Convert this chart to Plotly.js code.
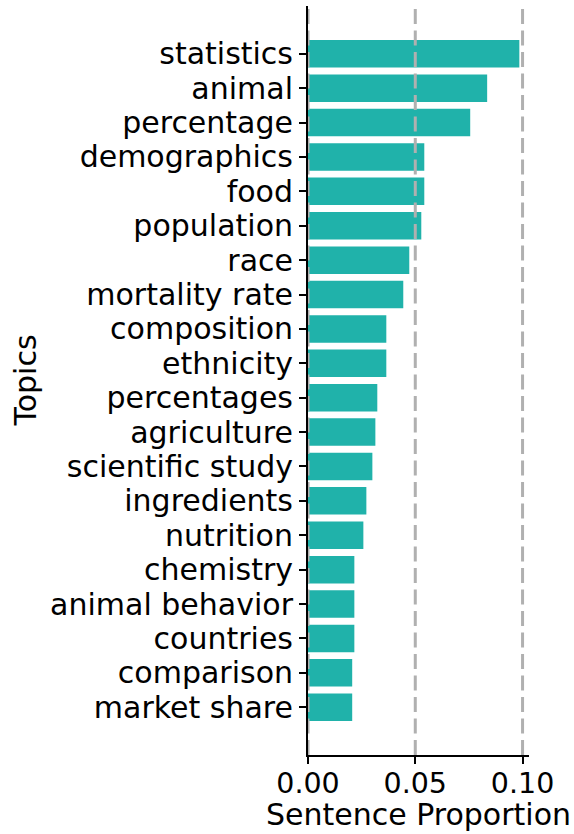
<!DOCTYPE html>
<html>
<head>
<meta charset="utf-8">
<script src="https://cdn.plot.ly/plotly-3.0.1.min.js"></script>
<style>html,body{margin:0;padding:0;background:#fff;}#chart{width:574px;height:834px;}</style>
</head>
<body>
<div id="chart"></div>
<script>
const topics = ["statistics","animal","percentage","demographics","food","population","race","mortality rate","composition","ethnicity","percentages","agriculture","scientific study","ingredients","nutrition","chemistry","animal behavior","countries","comparison","market share"];
const proportions = [0.0985,0.0835,0.0756,0.0542,0.0542,0.0528,0.0472,0.0444,0.0365,0.0365,0.0323,0.0314,0.0300,0.0272,0.0258,0.0216,0.0216,0.0216,0.0206,0.0206];
const xTicks = [0, 0.05, 0.10];
const xTickText = ["0.00","0.05","0.10"];
const xTitle = "Sentence Proportion";
const yTitle = "Topics";

const font = {family: "DejaVu Sans", size: 30, color: "#000"};
const tickFontX = {family: "DejaVu Sans", size: 28.5, color: "#000"};
const n = topics.length;
const pad = 1.39;

const shapes = xTicks.map(v => ({
  type: "line", xref: "x", yref: "paper", x0: v, x1: v, y0: 0, y1: 1,
  line: {color: "#b0b0b0", width: 3, dash: "15px,6.5px"}, layer: "above"
}));

const annotations = [
  {text: xTitle, xref: "paper", yref: "paper", x: 0.5, y: 0, xanchor: "center", yanchor: "middle",
   yshift: -59, showarrow: false, font: font, borderpad: 0},
  {text: yTitle, xref: "paper", yref: "paper", x: 0, y: 0.5, xanchor: "center", yanchor: "middle",
   xshift: -283, textangle: -90, showarrow: false, font: font}
];

Plotly.newPlot("chart", [{
  type: "bar", orientation: "h", y: topics, x: proportions,
  width: 0.8, marker: {color: "#20B2AA", line: {width: 0}},
  hoverinfo: "skip"
}], {
  width: 574, height: 834,
  margin: {l: 308, r: 45, t: 6, b: 79, pad: 0},
  paper_bgcolor: "#fff", plot_bgcolor: "#fff",
  font: font,
  showlegend: false,
  bargap: 0.2,
  shapes: shapes,
  annotations: annotations,
  xaxis: {
    range: [0, 0.1030], tickvals: xTicks, ticktext: xTickText,
    showgrid: false, zeroline: false,
    showline: true, linecolor: "#000", linewidth: 2,
    ticks: "outside", ticklen: 7, tickwidth: 2, tickcolor: "#000",
    tickfont: tickFontX, ticklabelstandoff: -5,
    automargin: false,
    layer: "above traces"
  },
  yaxis: {
    type: "category", categoryorder: "array", categoryarray: topics,
    tickmode: "array", tickvals: topics, ticktext: topics,
    range: [n - 1 + pad, -pad],
    showgrid: false, zeroline: false,
    showline: true, linecolor: "#000", linewidth: 2,
    ticks: "outside", ticklen: 7, tickwidth: 2, tickcolor: "#000",
    tickfont: font,
    automargin: false,
    layer: "above traces"
  }
}, {staticPlot: true, displayModeBar: false});
</script>
</body>
</html>
